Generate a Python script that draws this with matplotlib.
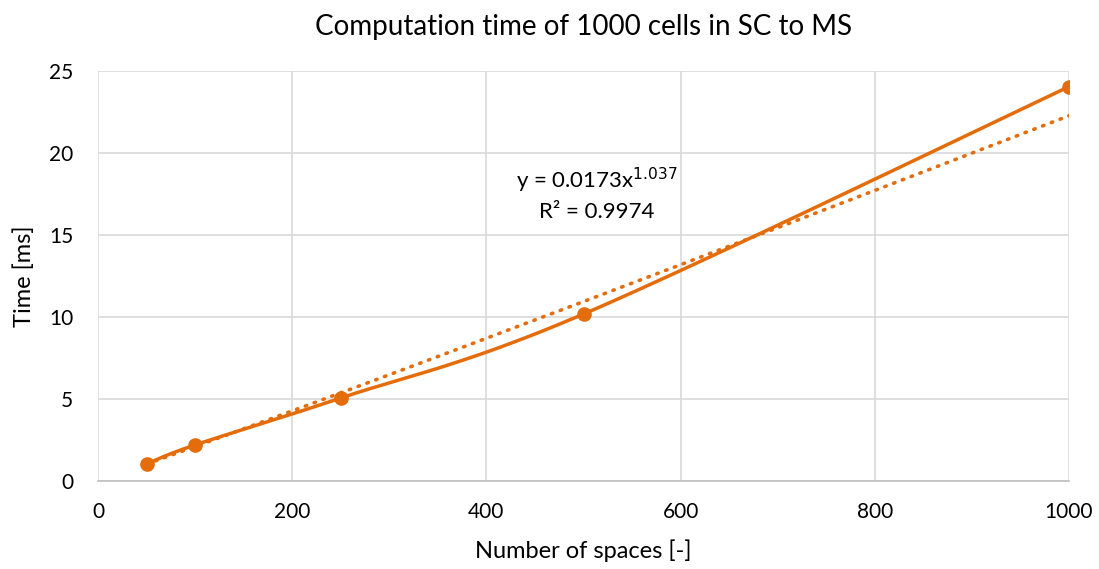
import numpy as np
import matplotlib.pyplot as plt

plt.rcParams['font.family'] = ['Lato', 'DejaVu Sans']

# data
spaces = [50, 100, 250, 500, 1000]
time_ms = [1.04, 2.2, 5.06, 10.18, 24.05]
x_ticks = [0, 200, 400, 600, 800, 1000]
y_ticks = [0, 5, 10, 15, 20, 25]
color = '#E46C0A'


def excel_smooth(x, y, n=40):
    # Bezier smoothing like Excel's "smoothed line"
    x = np.asarray(x, float)
    y = np.asarray(y, float)
    p = np.column_stack([x, y])
    p = np.vstack([p[0], p, p[-1]])
    out = []
    t = np.linspace(0, 1, n)[:, None]
    for i in range(1, len(p) - 2):
        p0, p3 = p[i], p[i + 1]
        c1 = p0 + (p[i + 1] - p[i - 1]) / 6
        c2 = p3 - (p[i + 2] - p[i]) / 6
        seg = (1 - t) ** 3 * p0 + 3 * (1 - t) ** 2 * t * c1 + 3 * (1 - t) * t ** 2 * c2 + t ** 3 * p3
        out.append(seg)
    out = np.vstack(out)
    return out[:, 0], out[:, 1]


fig = plt.figure(figsize=(10.99, 5.69), dpi=100)
ax = fig.add_axes([0.0892, 0.1547, 0.8835, 0.7205])

# power trendline fitted from the points
b, log_a = np.polyfit(np.log(spaces), np.log(time_ms), 1)
xt = np.linspace(spaces[0], spaces[-1], 200)
ax.plot(xt, np.exp(log_a) * xt ** b, color=color, lw=2.6, ls=(0, (0.4, 2.2)),
        dash_capstyle='round', zorder=3)

sx, sy = excel_smooth(spaces, time_ms)
ax.plot(sx, sy, color=color, lw=2.5, zorder=4)
ax.plot(spaces, time_ms, 'o', color=color, ms=9.5, zorder=5)

ax.text(514, 18.3, 'y = 0.0173x$^{1.037}$', ha='center', va='center', fontsize=16)
ax.text(514, 16.4, 'R² = 0.9974', ha='center', va='center', fontsize=16)

ax.set_xlim(0, 1000)
ax.set_ylim(0, 25)
ax.set_xticks(x_ticks)
ax.set_yticks(y_ticks)
ax.grid(True, color='#D9D9D9', lw=1.2)
ax.set_axisbelow(True)
for s in ['top', 'right', 'left']:
    ax.spines[s].set_visible(False)
ax.spines['bottom'].set_color('#BFBFBF')
ax.spines['bottom'].set_linewidth(1.2)
ax.tick_params(length=0, labelsize=15, colors='#000000')
ax.tick_params(axis='x', pad=15)
ax.tick_params(axis='y', pad=18)

ax.set_xlabel('Number of spaces [-]', fontsize=17, labelpad=13)
ax.set_ylabel('Time [ms]', fontsize=17, labelpad=10)
ax.set_title('Computation time of 1000 cells in SC to MS', fontsize=20, pad=26)

fig.savefig('out.png', dpi=100)
